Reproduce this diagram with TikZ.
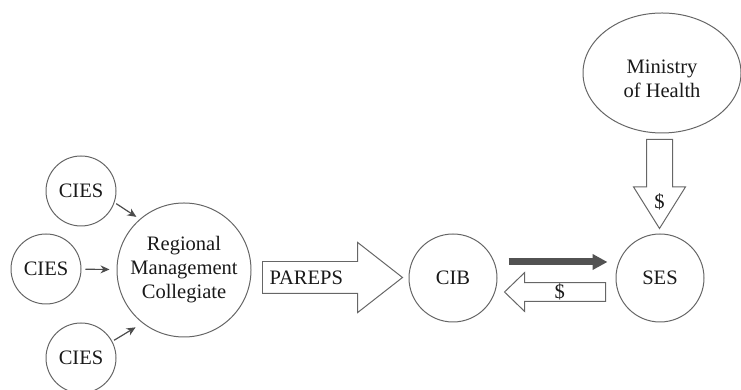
\documentclass[tikz,border=0pt]{standalone}
\usepackage{fontspec}
\setmainfont{Liberation Serif}
\usetikzlibrary{shapes.geometric, shapes.arrows, arrows.meta}

\begin{document}
\begin{tikzpicture}[
                x=0.5bp, y=-0.5bp,
                font=\fontsize{10.3}{12}\selectfont,
                every node/.style={align=center, inner sep=0pt, text=black!90},
                unit/.style={circle, draw=black!60, line width=0.5pt},
                link/.style={->, >={Stealth[length=4.5bp, width=4bp]},
                    draw=black!70, line width=0.6pt},
                fat link/.style={-{Triangle[length=7.5bp, width=7.5bp]},
                    draw=black!68, line width=3.5bp},
                block/.style={single arrow, draw=black!60, line width=0.5pt,
                    single arrow head indent=0pt, anchor=tail},
            ]
            \useasboundingbox (0,0) rectangle (741,390);

            % units
            \node[unit, minimum size=35bp] (C1) at (81,191) {CIES};
            \node[unit, minimum size=35bp] (C2) at (46,269) {CIES};
            \node[unit, minimum size=35bp] (C3) at (81,358) {CIES};
            \node[unit, minimum size=67bp] (R) at (184,270)
                {Regional\\Management\\Collegiate};
            \node[unit, minimum size=44bp] (CIB) at (453,278) {CIB};
            \node[unit, minimum size=44bp] (SES) at (660,278) {SES};
            \node[ellipse, draw=black!60, line width=0.5pt,
                minimum width=79bp, minimum height=60bp] (MH) at (662,73)
                {\rule{0pt}{13bp}Ministry\\of Health};

            % block arrows
            \node[block, minimum height=70bp, minimum width=34.5bp,
                inner ysep=4.3bp,
                single arrow head extend=9.5bp, single arrow tip angle=76]
                (P) at (262,277.5) {PAREPS\hspace*{16bp}};
            \node[block, shape border rotate=180, minimum height=50.5bp,
                minimum width=19.5bp, single arrow head extend=4.75bp,
                single arrow tip angle=88] (back) at (606,292) {\$};
            \node[block, shape border rotate=270, minimum height=44.5bp,
                minimum width=25.5bp, inner sep=6.25bp,
                single arrow head extend=6.5bp,
                single arrow tip angle=64] (down) at (659.5,139) {};
            \node (fund) at ([shift={(0,-28)}]down.tip) {\$};

            % links
            \draw[link, shorten <=1bp, shorten >=2bp] (C1.-19) -- (R.131);
            \draw[link, shorten <=2bp, shorten >=3.5bp] (C2) -- (R);
            \draw[link, shorten <=1bp, shorten >=4bp] (C3.28) -- (R.232);
            \draw[fat link] ([shift={(11,-16)}]CIB.east) -- ([shift={(-8,-16)}]SES.west);
        \end{tikzpicture}
\end{document}
